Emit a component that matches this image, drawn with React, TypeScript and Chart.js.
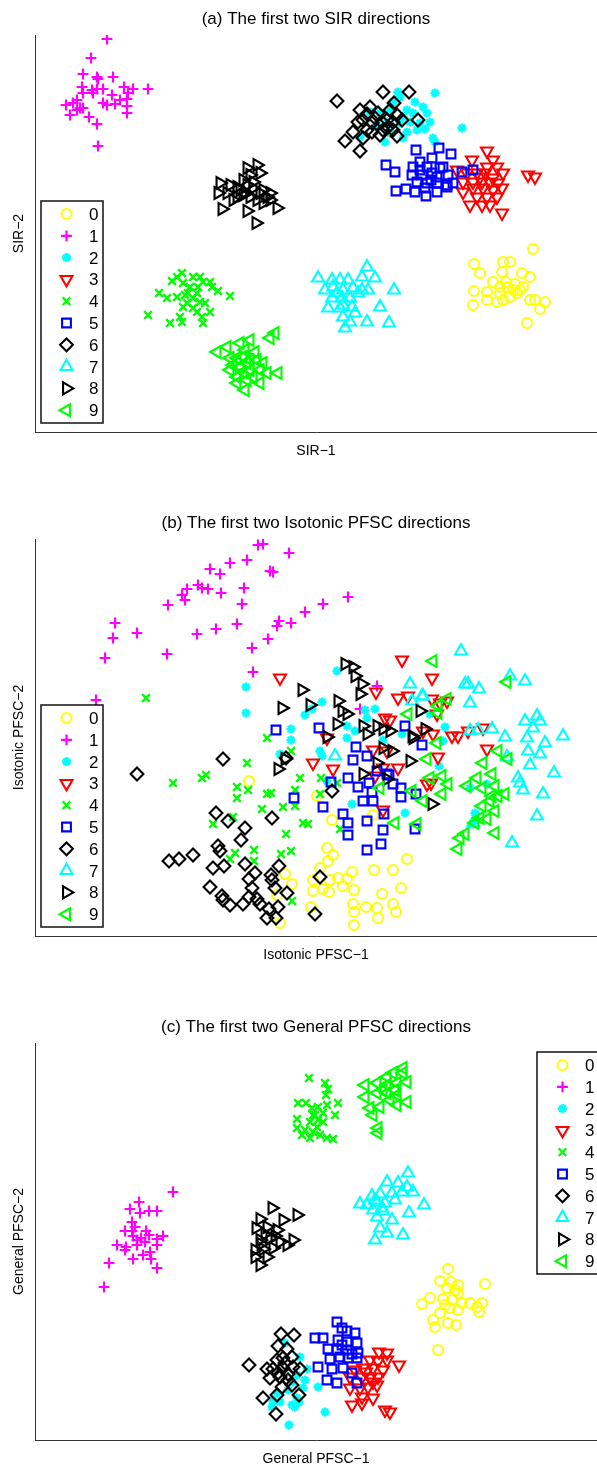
import React, { useEffect, useRef } from "react";
import { Chart, registerables } from "chart.js";
import { drawPoint } from "chart.js/helpers";

Chart.register(...registerables);

// Digit classes and their marker styling (MATLAB-like markers)
const DIGITS = ["0", "1", "2", "3", "4", "5", "6", "7", "8", "9"];
const COLORS = ["#FFFF00", "#FF00FF", "#00FFFF", "#FF0000", "#00FF00", "#0000FF", "#000000", "#00FFFF", "#000000", "#00FF00"];
const MARKER_STYLE = ["circle", "cross", "star", "triangle", "crossRot", "rect", "rectRot", "triangle", "triangle", "triangle"];
const MARKER_ROTATION = [0, 0, 0, 180, 0, 0, 0, 0, 90, 270];
const MARKER_RADIUS = [5, 5.4, 4.5, 6.9, 5.4, 6.2, 6.4, 6.9, 6.9, 6.9];
const MARKER_WIDTH = [2, 2.2, 2.6, 2.1, 2.3, 2.1, 2.1, 2.1, 2.1, 2.1];

// Axis extents shared by all three panels (projection units)
const X_RANGE = [0, 562];
const Y_RANGE = [0, 397];

// (a) first two SIR directions
const SIR_0 = [[498,183],[439,168],[445,159],[468,170],[475,170],[467,160],[487,159],[495,155],[458,150],[452,140],[439,141],[465,145],[472,145],[478,142],[485,142],[488,145],[462,130],[468,132],[475,135],[452,132],[438,127],[495,132],[500,132],[510,130],[505,123],[492,109],[482,139],[465,139],[471,150],[480,148]];
const SIR_1 = [[72,393],[56,374],[48,358],[62,355],[63,353],[78,355],[47,345],[57,342],[62,343],[68,343],[77,337],[89,345],[98,343],[113,343],[48,339],[42,332],[31,327],[38,329],[45,324],[48,324],[68,329],[72,327],[80,328],[85,332],[92,333],[92,326],[92,319],[35,317],[54,315],[62,308],[63,286],[93,339],[58,339],[42,322]];
const SIR_2 = [[363,340],[365,335],[400,339],[388,325],[392,319],[395,310],[372,322],[378,319],[375,310],[382,302],[368,294],[350,290],[398,294],[400,290],[427,304],[358,330],[355,322],[335,320],[345,319],[342,307],[355,299],[325,295],[365,309],[385,309],[372,300],[380,330],[368,315],[390,303],[352,310]];
const SIR_3 = [[452,281],[437,272],[458,272],[452,265],[462,265],[422,262],[432,259],[442,259],[450,259],[468,259],[493,257],[500,255],[428,250],[438,250],[447,250],[455,250],[463,249],[428,240],[438,244],[448,244],[458,242],[467,244],[435,227],[447,227],[455,227],[467,219],[442,235],[452,235],[462,235],[445,255],[458,254]];
const SIR_4 = [[147,159],[142,155],[137,151],[148,149],[158,155],[165,155],[168,150],[175,150],[177,145],[183,141],[195,136],[124,139],[132,134],[142,135],[150,137],[153,139],[158,134],[162,139],[165,130],[170,129],[152,129],[148,125],[158,124],[162,120],[175,120],[167,115],[113,117],[145,115],[147,110],[135,109],[168,109],[163,145],[155,145]];
const SIR_5 = [[381,282],[404,284],[416,278],[351,267],[360,260],[378,265],[385,270],[397,274],[392,265],[405,264],[408,265],[427,260],[438,262],[377,257],[387,257],[397,259],[402,255],[413,257],[382,250],[392,249],[402,249],[412,247],[418,249],[361,241],[371,243],[380,240],[391,236],[402,240],[412,245],[390,244],[396,252],[385,262]];
const SIR_6 = [[302,331],[348,340],[374,340],[359,329],[325,322],[335,325],[343,319],[355,322],[362,317],[367,312],[383,312],[318,300],[328,312],[337,309],[347,310],[353,305],[332,302],[345,297],[362,296],[310,291],[328,294],[325,281],[340,314],[352,312],[358,302],[323,310],[337,300],[348,302],[332,318],[358,310]];
const SIR_7 = [[283,154],[297,152],[305,152],[313,152],[327,155],[332,165],[340,154],[290,142],[298,145],[308,142],[318,144],[327,142],[333,142],[359,142],[297,134],[307,134],[315,134],[323,139],[293,124],[308,127],[317,125],[345,125],[308,115],[320,119],[332,110],[354,109],[310,104],[315,110],[305,124],[302,139]];
const SIR_8 = [[222,267],[212,264],[215,257],[225,259],[208,252],[185,249],[195,247],[202,245],[212,247],[218,244],[228,242],[183,239],[192,239],[202,235],[208,237],[215,235],[225,239],[232,235],[235,232],[242,224],[187,223],[212,221],[221,209],[198,232],[228,229],[205,242],[222,232],[235,239],[218,250],[210,240]];
const SIR_9 = [[240,99],[235,94],[182,80],[192,85],[205,89],[215,92],[210,82],[195,74],[202,74],[208,75],[215,72],[222,72],[228,69],[243,59],[195,62],[205,65],[215,62],[225,62],[232,59],[202,55],[212,52],[225,49],[210,42],[202,49],[218,55],[212,69],[198,67],[220,80],[208,60]];

// (b) first two Isotonic PFSC directions
const ISO_0 = [[214,155],[282,140],[297,116],[338,121],[292,88],[298,81],[293,75],[285,68],[278,56],[295,56],[303,58],[312,57],[317,64],[308,50],[319,46],[278,45],[288,47],[294,44],[339,66],[358,66],[372,77],[347,42],[366,48],[318,32],[331,29],[342,28],[358,32],[361,24],[319,24],[343,18],[319,11],[276,29],[245,13],[250,62],[257,52],[242,41]];
const ISO_1 = [[223,391],[228,392],[254,383],[195,373],[212,376],[175,367],[185,362],[235,365],[238,364],[152,347],[147,341],[150,336],[163,351],[167,348],[173,347],[186,343],[209,348],[207,332],[133,331],[80,313],[78,298],[102,303],[132,282],[70,278],[162,302],[181,307],[202,312],[217,288],[233,297],[242,310],[244,315],[256,313],[270,324],[288,332],[313,339],[218,264],[61,236],[342,250],[325,227]];
const ISO_2 = [[211,249],[211,223],[302,265],[287,234],[277,227],[270,221],[256,207],[256,196],[245,182],[285,185],[287,180],[312,210],[320,205],[312,198],[330,226],[340,227],[332,218],[317,132],[370,123],[367,202],[348,196],[292,155],[410,209],[408,195],[404,170],[395,222],[452,152],[435,148],[440,123],[437,112]];
const ISO_3 = [[367,276],[245,258],[341,244],[363,238],[373,240],[350,218],[355,216],[292,198],[338,186],[352,185],[298,167],[278,173],[348,168],[363,168],[340,160],[348,126],[392,152],[388,205],[397,258],[397,237],[405,233],[412,235],[402,222],[417,200],[423,200],[433,205],[448,208],[452,187],[403,179],[396,153],[398,202]];
const ISO_4 = [[111,238],[138,153],[167,158],[171,161],[202,149],[202,138],[212,173],[213,146],[178,112],[198,119],[195,77],[200,83],[232,198],[256,185],[232,142],[236,143],[260,146],[265,158],[286,158],[285,142],[248,129],[260,130],[227,127],[268,113],[273,112],[251,102],[219,86],[246,82],[256,85],[219,75],[257,35],[305,107],[302,153]];
const ISO_5 = [[241,206],[284,208],[321,189],[318,176],[332,180],[313,158],[323,149],[334,153],[337,144],[328,135],[338,135],[354,161],[358,152],[366,148],[366,139],[381,142],[296,154],[259,138],[288,129],[308,122],[313,113],[332,115],[349,122],[348,106],[380,107],[313,101],[346,92],[332,86],[370,210],[387,191],[342,165],[352,162]];
const ISO_6 = [[102,162],[188,177],[251,178],[297,145],[181,123],[193,115],[210,108],[206,96],[183,90],[185,85],[134,75],[144,77],[158,81],[178,68],[189,70],[210,72],[220,63],[214,57],[175,49],[236,61],[237,56],[244,70],[240,48],[252,43],[217,48],[214,39],[222,37],[187,40],[188,36],[195,31],[208,32],[225,32],[234,27],[243,29],[232,18],[241,18],[237,118],[285,59],[280,22]];
const ISO_7 = [[375,252],[387,240],[300,180],[377,235],[426,285],[475,260],[490,255],[430,252],[433,252],[444,247],[435,233],[388,240],[435,205],[443,206],[457,207],[470,199],[490,215],[502,220],[505,215],[498,208],[492,198],[510,193],[528,200],[493,185],[505,182],[472,179],[495,171],[483,158],[485,153],[519,163],[488,146],[508,142],[502,120],[477,93],[438,113]];
const ISO_8 = [[310,272],[318,269],[320,260],[327,252],[325,242],[267,246],[247,228],[275,231],[303,235],[307,225],[302,212],[312,222],[292,199],[328,210],[332,202],[342,210],[348,207],[355,205],[377,200],[385,225],[348,188],[357,185],[342,173],[375,175],[328,162],[352,157],[243,167],[250,177],[390,207],[378,198],[397,132]];
const ISO_9 = [[398,275],[472,254],[412,237],[403,230],[403,223],[402,193],[392,177],[463,185],[473,177],[448,173],[395,158],[407,160],[413,152],[432,150],[442,158],[457,162],[460,150],[447,148],[407,142],[388,135],[457,140],[463,140],[470,142],[455,135],[447,130],[460,125],[445,118],[452,117],[440,113],[460,103],[430,102],[425,98],[423,87],[382,112],[377,145],[373,222],[345,148],[360,113]];

// (c) first two General PFSC directions
const GEN_0 = [[413,171],[405,159],[416,158],[423,155],[450,156],[412,152],[423,147],[395,142],[387,136],[408,141],[417,140],[427,137],[435,137],[442,133],[447,137],[415,132],[423,130],[444,128],[405,127],[398,120],[413,117],[421,115],[400,113],[403,90],[420,150],[410,135]];
const GEN_1 = [[138,248],[104,238],[95,231],[105,227],[114,229],[122,229],[97,218],[90,209],[97,209],[111,209],[114,205],[128,204],[98,204],[102,200],[122,201],[110,198],[82,195],[91,193],[102,195],[122,195],[90,190],[115,188],[108,185],[98,181],[116,181],[74,177],[122,172],[69,153],[100,213],[106,202]];
const GEN_2 = [[250,97],[265,83],[272,71],[270,60],[268,52],[283,53],[253,50],[242,47],[238,39],[245,38],[257,35],[264,38],[237,33],[260,33],[290,28],[254,15],[262,42],[262,65],[258,58]];
const GEN_3 = [[344,88],[352,87],[335,80],[343,79],[352,80],[364,75],[320,70],[328,72],[338,72],[348,70],[315,63],[327,63],[335,62],[343,63],[315,52],[325,52],[333,53],[342,55],[327,43],[338,42],[317,35],[327,37],[350,30],[355,28],[331,68],[338,58]];
const GEN_4 = [[274,362],[290,357],[293,351],[291,345],[263,337],[271,337],[277,332],[283,333],[292,335],[303,337],[300,325],[280,325],[288,327],[262,321],[275,318],[283,320],[262,312],[270,310],[278,308],[285,305],[275,302],[267,305],[298,301],[292,302],[282,313],[278,325],[288,318]];
const GEN_5 = [[302,118],[307,112],[312,109],[320,107],[280,102],[288,102],[303,100],[312,98],[322,97],[293,91],[302,90],[312,90],[323,87],[295,81],[305,83],[313,82],[322,82],[283,73],[297,71],[308,72],[317,67],[292,60],[302,57],[322,57],[307,95],[317,86]];
const GEN_6 = [[246,106],[259,105],[243,94],[252,91],[214,75],[232,71],[242,80],[248,82],[257,83],[238,71],[248,72],[258,73],[265,71],[235,62],[245,63],[253,60],[247,53],[257,55],[228,42],[242,45],[264,45],[241,26],[250,77],[243,67],[253,66]];
const GEN_7 = [[373,267],[352,258],[363,257],[372,253],[378,248],[367,248],[357,247],[337,244],[345,246],[325,236],[332,235],[342,238],[350,237],[360,240],[389,235],[338,230],[348,229],[374,227],[342,223],[357,220],[345,212],[352,207],[340,200],[368,205],[347,232],[340,240]];
const GEN_8 = [[237,232],[262,225],[248,220],[225,221],[221,212],[232,213],[242,210],[258,200],[225,200],[235,202],[245,198],[252,195],[228,191],[238,192],[220,183],[225,175],[232,183],[220,190],[230,206],[240,204],[226,196]];
const GEN_9 = [[368,372],[358,367],[352,363],[330,355],[342,357],[352,355],[362,357],[372,358],[330,343],[342,347],[352,347],[362,345],[372,338],[335,332],[345,333],[362,335],[338,325],[343,312],[343,307],[368,367],[355,340],[348,350],[360,350]];

const FONT = '"Liberation Sans", Arial, Helvetica, sans-serif';

type PanelTextOpts = { title: string; xLabel: string; yLabel: string; corner: string };

// Draws the panel title, axis labels and the boxed marker legend
const panelTextPlugin = {
  id: "panelText",
  afterDraw(chart: any, _args: any, opts: PanelTextOpts) {
    const { ctx, chartArea: a } = chart;
    const cx = (a.left + a.right) / 2;
    const cy = (a.top + a.bottom) / 2;
    ctx.save();
    ctx.fillStyle = "#000";
    ctx.textAlign = "center";
    ctx.textBaseline = "alphabetic";
    ctx.font = `17px ${FONT}`;
    ctx.fillText(opts.title, cx, a.top - 11);
    ctx.font = `14px ${FONT}`;
    ctx.fillText(opts.xLabel, cx, a.bottom + 23);
    ctx.save();
    ctx.translate(23, cy);
    ctx.rotate(-Math.PI / 2);
    ctx.fillText(opts.yLabel, 0, 0);
    ctx.restore();

    // legend box
    const boxW = 62;
    const boxH = 222;
    const bx = opts.corner === "topRight" ? a.right - 60 : a.left + 6;
    const by = opts.corner === "topRight" ? a.top + 9 : a.bottom - 9 - boxH;
    ctx.fillStyle = "#fff";
    ctx.fillRect(bx, by, boxW, boxH);
    ctx.strokeStyle = "#000";
    ctx.lineWidth = 1.4;
    ctx.strokeRect(bx, by, boxW, boxH);
    DIGITS.forEach((d, i) => {
      const y = by + 13 + i * 21.8;
      ctx.strokeStyle = COLORS[i];
      ctx.fillStyle = "rgba(0,0,0,0)";
      ctx.lineWidth = MARKER_WIDTH[i];
      drawPoint(ctx, {
        pointStyle: MARKER_STYLE[i],
        rotation: MARKER_ROTATION[i],
        radius: MARKER_RADIUS[i],
        borderWidth: MARKER_WIDTH[i],
      } as any, bx + 25.5, y);
      ctx.fillStyle = "#000";
      ctx.textAlign = "left";
      ctx.font = `17px ${FONT}`;
      ctx.fillText(d, bx + 48, y + 6);
    });
    ctx.restore();
  },
};

type PanelProps = {
  title: string;
  xLabel: string;
  yLabel: string;
  corner: string;
  series: number[][][];
  height: number;
};

function Panel({ title, xLabel, yLabel, corner, series, height }: PanelProps) {
  const ref = useRef<HTMLCanvasElement | null>(null);

  useEffect(() => {
    if (!ref.current) return;
    const hiddenScale = (max: number, horizontal: boolean) => ({
      type: "linear" as const,
      min: 0,
      max,
      ticks: { display: false },
      grid: { display: false, drawTicks: false },
      border: { display: true, color: "#333", width: 1 },
      title: { display: false },
      afterFit: (s: any) => {
        if (horizontal) s.height = 0;
        else s.width = 0;
      },
    });
    const chart = new Chart(ref.current, {
      type: "scatter",
      data: {
        datasets: series.map((pts, i) => ({
          label: DIGITS[i],
          data: pts.map(([x, y]) => ({ x, y })),
          pointStyle: MARKER_STYLE[i] as any,
          pointRotation: MARKER_ROTATION[i],
          pointRadius: MARKER_RADIUS[i],
          pointHoverRadius: MARKER_RADIUS[i],
          pointBorderWidth: MARKER_WIDTH[i],
          pointBorderColor: COLORS[i],
          pointBackgroundColor: "rgba(0,0,0,0)",
          borderColor: COLORS[i],
          backgroundColor: "rgba(0,0,0,0)",
          order: 9 - i,
        })),
      },
      options: {
        responsive: false,
        animation: false,
        events: [],
        layout: { autoPadding: false, padding: { left: 35, top: 35, right: 0, bottom: height - 432 } },
        scales: {
          x: hiddenScale(X_RANGE[1], true) as any,
          y: hiddenScale(Y_RANGE[1], false) as any,
        },
        plugins: {
          legend: { display: false },
          tooltip: { enabled: false },
          panelText: { title, xLabel, yLabel, corner },
        } as any,
      },
      plugins: [panelTextPlugin as any],
    });
    return () => chart.destroy();
  }, [title, xLabel, yLabel, corner, series, height]);

  return <canvas ref={ref} width={597} height={height} style={{ display: "block" }} />;
}

export default function App() {
  useEffect(() => {
    document.body.style.margin = "0";
  }, []);
  return (
    <div style={{ width: 597, background: "#fff" }}>
      <Panel
        title="(a) The first two SIR directions"
        xLabel="SIR−1"
        yLabel="SIR−2"
        corner="bottomLeft"
        series={[SIR_0, SIR_1, SIR_2, SIR_3, SIR_4, SIR_5, SIR_6, SIR_7, SIR_8, SIR_9]}
        height={504}
      />
      <Panel
        title="(b) The first two Isotonic PFSC directions"
        xLabel="Isotonic PFSC−1"
        yLabel="Isotonic PFSC−2"
        corner="bottomLeft"
        series={[ISO_0, ISO_1, ISO_2, ISO_3, ISO_4, ISO_5, ISO_6, ISO_7, ISO_8, ISO_9]}
        height={504}
      />
      <Panel
        title="(c) The first two General PFSC directions"
        xLabel="General PFSC−1"
        yLabel="General PFSC−2"
        corner="topRight"
        series={[GEN_0, GEN_1, GEN_2, GEN_3, GEN_4, GEN_5, GEN_6, GEN_7, GEN_8, GEN_9]}
        height={457}
      />
    </div>
  );
}
